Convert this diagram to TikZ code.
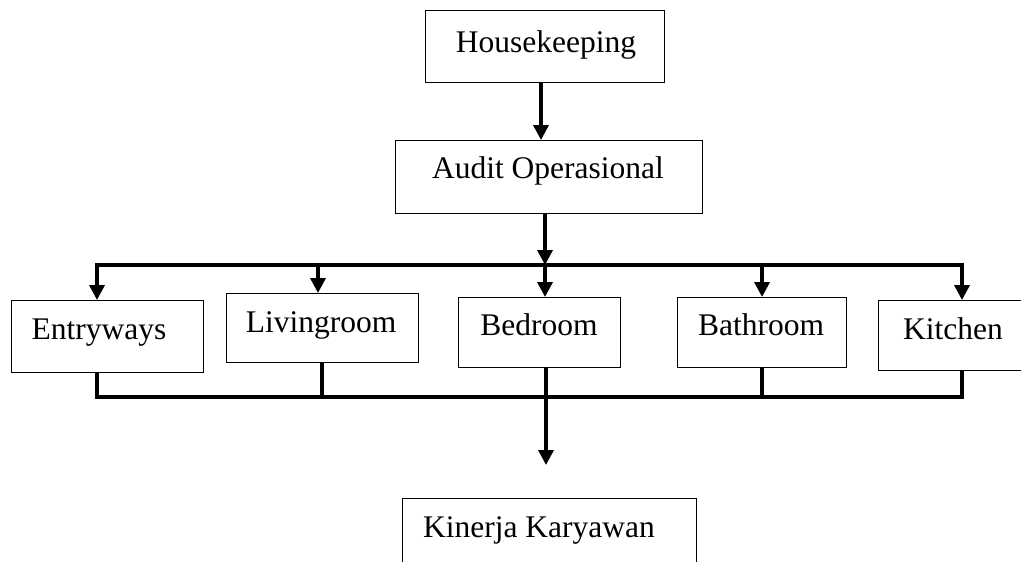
\documentclass[tikz,border=0pt]{standalone}
\usepackage{fontspec}
\setmainfont{Liberation Serif}
\usetikzlibrary{arrows.meta,calc}
\begin{document}
\begin{tikzpicture}[x=1pt,y=-1pt,
  box/.style={draw,line width=1.1pt,inner sep=0pt,anchor=north west},
  lbl/.style={anchor=base,inner sep=0pt,font=\fontsize{31.5}{36}\selectfont},
  conn/.style={line width=3.5pt,line join=miter},
  arr/.style={conn,-{Triangle[length=15pt,width=15pt]}},
  arr2/.style={conn,{Triangle[length=15pt,width=15pt]}-{Triangle[length=15pt,width=15pt]}}]
\useasboundingbox (0,0) rectangle (1021,562);
\begin{scope}
\clip (0,0) rectangle (1021,562);
% boxes
\node[box,minimum width=239pt,minimum height=72pt] (hk) at (425,10) {};
\node[box,minimum width=307pt,minimum height=73pt] (au) at (395,140) {};
\node[box,minimum width=192pt,minimum height=72pt] (ent) at (11,300) {};
\node[box,minimum width=192pt,minimum height=69pt] (liv) at (226,293) {};
\node[box,minimum width=162pt,minimum height=70pt] (bed) at (458,297) {};
\node[box,minimum width=169pt,minimum height=70pt] (bath) at (677,297) {};
\node[box,minimum width=150pt,minimum height=70pt] (kit) at (878,300) {};
\node[box,minimum width=294pt,minimum height=90pt] (kin) at (402,498) {};
\end{scope}
% labels
\node[lbl] (hkt) at (546,52) {Housekeeping};
\node[lbl] (aut) at (548,178) {Audit Operasional};
\node[lbl] (entt) at (99,339) {Entryways};
\node[lbl] (livt) at (321,332) {Livingroom};
\node[lbl] (bedt) at (539,335) {Bedroom};
\node[lbl] (batht) at (761,335) {Bathroom};
\node[lbl] (kitt) at (953,339) {Kitchen};
\node[lbl] (kint) at (539,537) {Kinerja Karyawan};
% bus coordinates
\coordinate (tl) at (97,265);
\coordinate (tr) at (962,265);
\coordinate (bl) at (97,397);
\coordinate (br) at (962,397);
\coordinate (bm) at (546,397);
\coordinate (ktip) at (546,465);
% connectors top
\draw[arr] (hk.south -| 541,0) -- (541,0 |- au.north);
\draw[arr] (au.south -| 545,0) -- (545,0 |- tl) coordinate (tm);
\draw[arr2] (tl |- ent.north) -- (tl) -- (tr) -- (tr |- kit.north);
\draw[arr] (tm) -- (tm |- bed.north);
\draw[arr] (318,0 |- tl) -- (318,0 |- liv.north);
\draw[arr] (bath.north |- tl) -- (bath.north);
% connectors bottom
\draw[conn] (ent.south -| bl) -- (bl) -- (br) -- (br |- kit.south);
\draw[conn] (322,0 |- liv.south) -- (322,0 |- bl);
\draw[conn] (bm |- bed.south) -- (bm);
\draw[conn] (bath.south) -- (bath.south |- bl);
\draw[arr] (bm) -- (ktip);
\end{tikzpicture}
\end{document}
